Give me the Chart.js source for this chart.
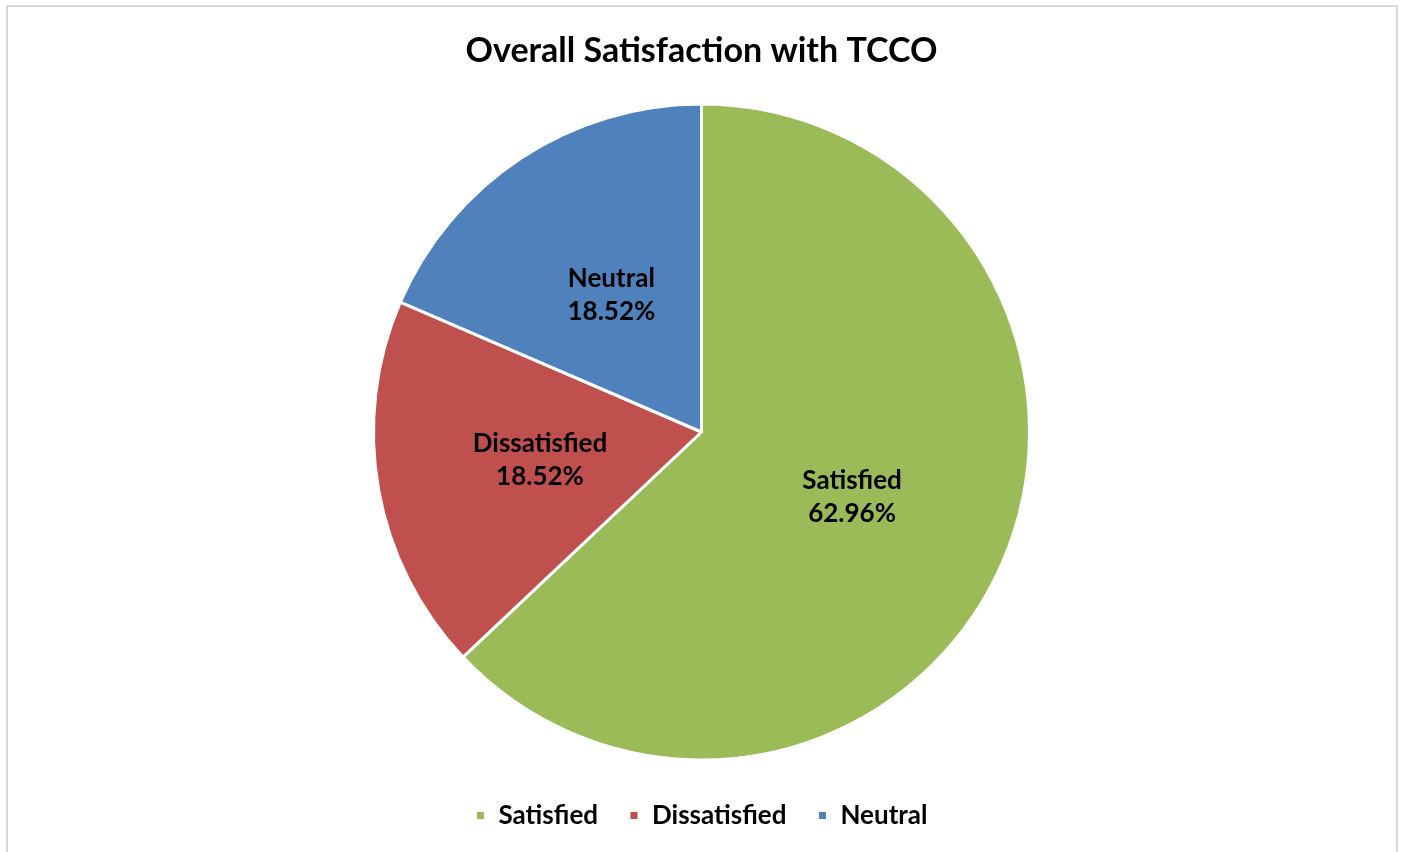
<!DOCTYPE html>
<html lang="en">
<head>
    <meta charset="UTF-8">
    <title>Overall Satisfaction with TCCO</title>
    <style>
        body {
            margin: 0;
            padding: 0;
            background: #ffffff;
            font-family: Lato, Arial, sans-serif;
        }

        .frame {
            position: absolute;
            left: 6px;
            top: 5px;
            width: 1388px;
            height: 900px;
            border: 2px solid #d9d9d9;
            border-bottom: none;
        }

        .chart-box {
            position: absolute;
            left: 0;
            top: 0;
            width: 1403px;
            height: 852px;
        }
    </style>
</head>
<body>

<div class="frame"></div>
<div class="chart-box">
    <canvas id="pie"></canvas>
</div>

<script src="https://cdn.jsdelivr.net/npm/chart.js"></script>

<script>
    const categories = ['Satisfied', 'Dissatisfied', 'Neutral'];
    const shares = [62.96, 18.52, 18.52];
    const sliceColors = ['#9bbb59', '#c0504d', '#4f81bd'];

    // nhãn trong lát bánh: tên + phần trăm
    const sliceLabels = {
        id: 'sliceLabels',
        afterDatasetsDraw(chart) {
            const ctx = chart.ctx;
            const meta = chart.getDatasetMeta(0);
            ctx.save();
            ctx.font = 'bold 26px Lato';
            ctx.fillStyle = '#000000';
            ctx.textAlign = 'center';
            ctx.textBaseline = 'middle';
            meta.data.forEach((arc, i) => {
                const p = arc.tooltipPosition();
                ctx.fillText(categories[i], p.x, p.y - 16.5);
                ctx.fillText(shares[i].toFixed(2) + '%', p.x, p.y + 16.5);
            });
            ctx.restore();
        }
    };

    const ctx = document.getElementById('pie').getContext('2d');
    const myPieChart = new Chart(ctx, {
        type: 'pie',
        data: {
            labels: categories,
            datasets: [{
                data: shares,
                backgroundColor: sliceColors,
                borderColor: '#ffffff',
                borderWidth: 3
            }]
        },
        options: {
            responsive: true,
            maintainAspectRatio: false,
            animation: false,
            radius: 328,
            layout: {
                padding: { top: 0, bottom: 13.5, left: 0, right: 0 }
            },
            plugins: {
                title: {
                    display: true,
                    text: 'Overall Satisfaction with TCCO',
                    color: '#000000',
                    font: { family: 'Lato', size: 34, weight: 'bold' },
                    padding: { top: 30.6, bottom: 21.1 }
                },
                legend: {
                    position: 'bottom',
                    labels: {
                        boxWidth: 10,
                        boxHeight: 10,
                        padding: 31,
                        color: '#000000',
                        font: { family: 'Lato', size: 26, weight: 'bold' }
                    }
                },
                tooltip: { enabled: false }
            }
        },
        plugins: [sliceLabels]
    });
</script>

</body>
</html>
